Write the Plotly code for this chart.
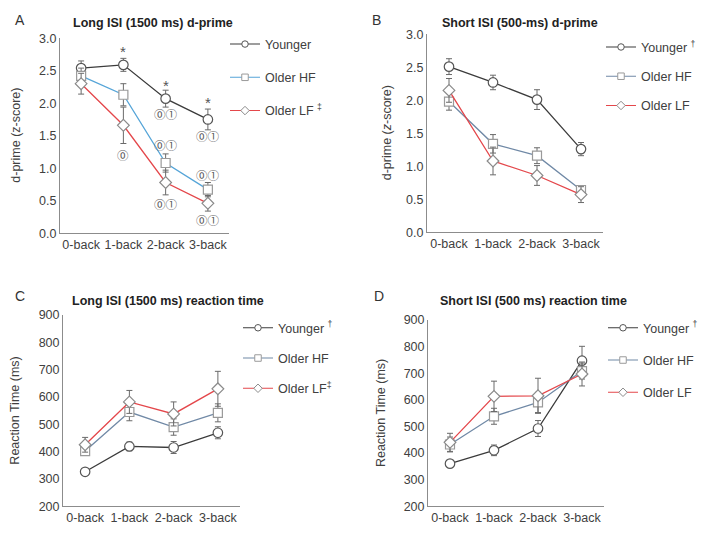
import plotly.graph_objects as go

W, H = 708, 560
cats = ["0-back", "1-back", "2-back", "3-back"]

# Panel A: Long ISI d-prime
a_young = [2.54, 2.59, 2.07, 1.75]
a_young_err = [0.11, 0.10, 0.13, 0.16]
a_hf = [2.42, 2.13, 1.08, 0.67]
a_hf_err = [0.12, 0.17, 0.14, 0.11]
a_lf = [2.30, 1.66, 0.78, 0.46]
a_lf_err = [0.16, 0.28, 0.19, 0.12]

# Panel B: Short ISI d-prime
b_young = [2.51, 2.27, 2.01, 1.26]
b_young_err = [0.12, 0.11, 0.15, 0.10]
b_hf = [1.98, 1.34, 1.16, 0.64]
b_hf_err = [0.13, 0.14, 0.12, 0.06]
b_lf = [2.15, 1.08, 0.86, 0.57]
b_lf_err = [0.18, 0.21, 0.15, 0.12]

# Panel C: Long ISI reaction time
c_young = [326, 419, 415, 469]
c_young_err = [8, 16, 22, 22]
c_hf = [402, 545, 490, 542]
c_hf_err = [14, 32, 30, 33]
c_lf = [425, 582, 538, 630]
c_lf_err = [27, 42, 44, 64]

# Panel D: Short ISI reaction time
d_young = [360, 410, 492, 747]
d_young_err = [10, 20, 30, 54]
d_hf = [432, 538, 590, 708]
d_hf_err = [28, 30, 38, 30]
d_lf = [440, 613, 615, 697]
d_lf_err = [34, 57, 66, 45]

titles = ["Long ISI (1500 ms) d-prime", "Short ISI (500-ms) d-prime",
          "Long ISI (1500 ms) reaction time", "Short ISI (500 ms) reaction time"]
letters = ["A", "B", "C", "D"]
legend_names = [
    ["Younger", "Older HF", "Older LF <sup>‡</sup>"],
    ["Younger <sup>†</sup>", "Older HF", "Older LF"],
    ["Younger <sup>†</sup>", "Older HF", "Older LF<sup>‡</sup>"],
    ["Younger <sup>†</sup>", "Older HF", "Older LF"],
]

FONT = "Liberation Sans, Arial, sans-serif"
SYMF = "Noto Sans CJK JP, DejaVu Sans, sans-serif"
TXT = "#404040"
C_Y = "#3c3c3c"
C_HF_A = "#56a5d8"
C_HF = "#7089a6"
C_LF = "#e4474b"
EB = "#6a6a6a"

# layout boxes in pixels: x0, x1, ytop, ybottom
boxes = [(60, 229, 32, 232), (427, 603, 28, 231), (63, 240, 316, 512), (428, 604, 321, 512)]
yranges = [[0, 3], [0, 3], [200, 900], [200, 900]]
ydticks = [0.5, 0.5, 100, 100]
ytickfmt = [".1f", ".1f", "d", "d"]
ytitles = ["d-prime (z-score)", "d-prime (<i>z</i>-score)", "Reaction Time (ms)", "Reaction Time (ms)"]
ytitle_x = [16, 387, 15, 381]
title_pos = [(153, 16), (520, 16), (168, 302), (533, 302)]
letter_pos = [(20, 13), (376, 13), (20, 296), (379, 296)]
legend_pos = [(225, 23), (601, 26), (238, 314), (603, 314)]
legend_gap = [14, 10, 11, 13]

data = [
    (a_young, a_young_err, a_hf, a_hf_err, a_lf, a_lf_err),
    (b_young, b_young_err, b_hf, b_hf_err, b_lf, b_lf_err),
    (c_young, c_young_err, c_hf, c_hf_err, c_lf, c_lf_err),
    (d_young, d_young_err, d_hf, d_hf_err, d_lf, d_lf_err),
]

fig = go.Figure()
layout = dict(width=W, height=H, margin=dict(l=0, r=0, t=0, b=0),
              paper_bgcolor="white", plot_bgcolor="white", showlegend=True,
              font=dict(family=FONT, size=12.5, color=TXT))
annotations = []

for i in range(4):
    sfx = "" if i == 0 else str(i + 1)
    xa, ya = "x" + sfx, "y" + sfx
    lg = "legend" + sfx
    yv, ye, hv, he, lv, le = data[i]
    hf_col = C_HF_A if i == 0 else C_HF
    series = [
        (yv, ye, C_Y, "circle", 9.5, "#555555"),
        (hv, he, hf_col, "square", 9, "#9a9a9a"),
        (lv, le, C_LF, "diamond", 9, "#8a8a8a"),
    ]
    for k, (vals, errs, col, sym, ms, mcol) in enumerate(series):
        fig.add_trace(go.Scatter(
            x=cats, y=vals, mode="lines+markers", name=legend_names[i][k],
            xaxis=xa, yaxis=ya, showlegend=False,
            line=dict(color=col, width=1.3),
            marker=dict(symbol=sym, size=ms, color="white", line=dict(color=mcol, width=1.2)),
            error_y=dict(type="data", array=errs, visible=True, color=EB, thickness=1, width=3),
            cliponaxis=False,
        ))
        # legend entry (empty data, smaller marker like the reference key)
        fig.add_trace(go.Scatter(
            x=[None], y=[None], mode="lines+markers", name=legend_names[i][k],
            xaxis=xa, yaxis=ya, legend=lg, legendgroup="g%d_%d" % (i, k),
            line=dict(color=col, width=1.1),
            marker=dict(symbol=sym, size=6.5, color="white", line=dict(color=mcol, width=1)),
        ))
    x0, x1, yt, yb = boxes[i]
    layout["xaxis" + sfx] = dict(
        domain=[x0 / W, x1 / W], anchor=ya, type="category", categoryarray=cats,
        range=[-0.5, 3.5], showline=True, linecolor="#8c8c8c", linewidth=1,
        showgrid=False, zeroline=False, ticks="", tickfont=dict(size=12.5, color=TXT),
    )
    layout["yaxis" + sfx] = dict(
        domain=[1 - yb / H, 1 - yt / H], anchor=xa, range=yranges[i], dtick=ydticks[i],
        tick0=yranges[i][0], tickformat=ytickfmt[i], showline=True, linecolor="#8c8c8c",
        linewidth=1, showgrid=False, zeroline=False, ticks="",
        tickfont=dict(size=12.5, color=TXT),
    )
    lx, ly = legend_pos[i]
    layout[lg] = dict(x=lx / W, y=1 - ly / H, xanchor="left", yanchor="top",
                      bgcolor="rgba(0,0,0,0)", tracegroupgap=legend_gap[i], itemsizing="trace",
                      itemwidth=30, font=dict(size=12.5, color=TXT, family=FONT),
                      traceorder="grouped")
    tx, ty = title_pos[i]
    annotations.append(dict(text="<b>" + titles[i] + "</b>", x=tx / W, y=1 - ty / H,
                            xref="paper", yref="paper", xanchor="center", yanchor="middle",
                            showarrow=False, font=dict(size=12.5, color="#222222")))
    px_, py_ = letter_pos[i]
    annotations.append(dict(text=letters[i], x=px_ / W, y=1 - py_ / H, xref="paper",
                            yref="paper", xanchor="center", yanchor="middle",
                            showarrow=False, font=dict(size=14, color="#333333")))
    annotations.append(dict(text=ytitles[i], textangle=-90, x=ytitle_x[i] / W,
                            y=1 - ((yt + yb) / 2) / H, xref="paper", yref="paper",
                            xanchor="center", yanchor="middle",
                            showarrow=False, font=dict(size=12.5, color=TXT)))

# significance markers (category, y value, text) per panel
sig_a = [("1-back", 2.80, "*"), ("2-back", 2.28, "*"), ("3-back", 2.01, "*"),
         ("2-back", 1.83, "⓪①"), ("3-back", 1.49, "⓪①"),
         ("2-back", 1.35, "⓪①"), ("3-back", 0.90, "⓪①"),
         ("1-back", 1.21, "⓪"), ("2-back", 0.45, "⓪①"), ("3-back", 0.20, "⓪①")]
sig_b = [("1-back", -0.40, "⓪"), ("2-back", -0.40, "⓪"), ("3-back", -0.40, "⓪①②")]
sig_c = [("1-back", 75, "⓪"), ("2-back", 75, "⓪"), ("3-back", 75, "⓪①")]
sig_d = [("1-back", 72, "⓪"), ("2-back", 72, "⓪"), ("3-back", 72, "⓪①②")]

for i, sig in enumerate([sig_a, sig_b, sig_c, sig_d]):
    sfx = "" if i == 0 else str(i + 1)
    for cat, yy, t in sig:
        star = t == "*"
        annotations.append(dict(text=t, x=cat, y=yy, xref="x" + sfx, yref="y" + sfx,
                                xanchor="center", yanchor="middle", showarrow=False,
                                font=dict(size=15 if star else 11.5,
                                          color="#555555" if star else "#5a5a5a",
                                          family=FONT if star else SYMF)))

layout["annotations"] = annotations
fig.update_layout(**layout)
fig.write_html("out.html")
